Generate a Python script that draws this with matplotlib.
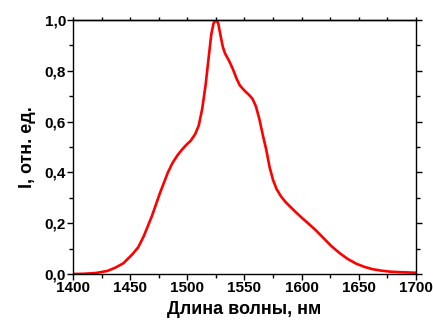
import matplotlib
matplotlib.use("Agg")
import matplotlib.pyplot as plt
from matplotlib.ticker import MultipleLocator, FuncFormatter, NullFormatter

wavelength = [1400, 1410, 1420, 1430, 1437, 1444, 1452, 1457, 1462, 1469, 1476, 1483, 1487, 1491,
              1495, 1499, 1503, 1507, 1510, 1513, 1516, 1518.5, 1521, 1523, 1525, 1527, 1529,
              1531, 1533, 1535, 1537, 1540, 1543, 1546, 1550, 1554, 1557, 1560, 1563, 1566,
              1569, 1572, 1575, 1578, 1582, 1586, 1590, 1595, 1600, 1605, 1612, 1619, 1626,
              1633, 1640, 1648, 1655, 1662, 1670, 1678, 1688, 1700]
intensity = [0.0, 0.001, 0.004, 0.012, 0.025, 0.042, 0.078, 0.105, 0.150, 0.228, 0.318, 0.400,
             0.437, 0.465, 0.488, 0.508, 0.525, 0.552, 0.585, 0.650, 0.745, 0.846, 0.945, 0.988,
             1.0, 0.988, 0.94, 0.895, 0.868, 0.852, 0.835, 0.805, 0.770, 0.742, 0.722, 0.705,
             0.690, 0.660, 0.610, 0.548, 0.490, 0.420, 0.370, 0.335, 0.305, 0.283, 0.265, 0.243,
             0.222, 0.202, 0.174, 0.142, 0.110, 0.083, 0.060, 0.040, 0.028, 0.019, 0.013, 0.009,
             0.007, 0.005]

x_label = "Длина волны, нм"
y_label = "I, отн. ед."

plt.rcParams['font.family'] = ['Liberation Sans', 'DejaVu Sans']
fig = plt.figure(figsize=(4.33, 3.25), dpi=100)
ax = fig.add_axes([0.1686, 0.1569, 0.9607 - 0.1686, 0.9384 - 0.1569])
ax.plot(wavelength, intensity, color='#ff0000', lw=1.9, solid_joinstyle='round',
        solid_capstyle='round')
ax.set_xlim(1400, 1700)
ax.set_ylim(0, 1.0)
ax.xaxis.set_major_locator(MultipleLocator(50))
ax.xaxis.set_minor_locator(MultipleLocator(25))
ax.yaxis.set_major_locator(MultipleLocator(0.2))
ax.yaxis.set_minor_locator(MultipleLocator(0.1))
ax.yaxis.set_major_formatter(FuncFormatter(lambda v, p: f"{v:.1f}".replace('.', ',')))
ax.tick_params(which='both', direction='out', right=True, top=False, width=1.0,
               labelsize=11, pad=1)
ax.tick_params(which='major', length=4)
ax.tick_params(which='minor', length=3)

top = ax.secondary_xaxis('top')
top.xaxis.set_major_locator(MultipleLocator(25))
top.xaxis.set_major_formatter(NullFormatter())
top.tick_params(which='both', direction='out', length=2, width=1.0)
top.spines['top'].set_linewidth(1.0)

for lab in ax.get_xticklabels() + ax.get_yticklabels():
    lab.set_fontweight('bold')
for s in ax.spines.values():
    s.set_linewidth(1.0)
ax.set_xlabel(x_label, fontsize=13, fontweight='bold', labelpad=4)
ax.set_ylabel(y_label, fontsize=13, fontweight='bold', labelpad=6)
fig.savefig("out.png", dpi=100)
